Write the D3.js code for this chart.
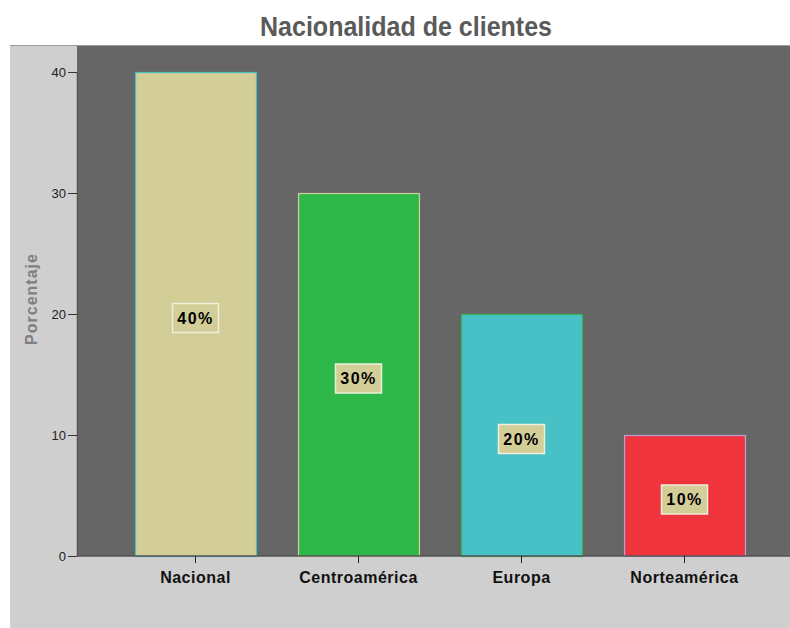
<!DOCTYPE html>
<html>
<head>
<meta charset="utf-8">
<script src="https://cdn.jsdelivr.net/npm/d3@7"></script>
<style>
  body { margin: 0; background: #fff; }
  svg { display: block; }
</style>
</head>
<body>
<div id="chart"></div>
<script>
// data
var categories = ["Nacional", "Centroamérica", "Europa", "Norteamérica"];
var values = [40, 30, 20, 10];
var labels = ["40%", "30%", "20%", "10%"];
var yTicks = [0, 10, 20, 30, 40];

var fills = ["#d3ce97", "#2fb84a", "#48c1c6", "#f0343d"];
var strokes = ["#4bbfc4", "#d3ce97", "#33b850", "#b9a3d6"];

var W = 790, H = 628;
var FONT = "'Liberation Sans', Arial, sans-serif";

var svg = d3.select("#chart")
  .append("svg")
  .attr("width", W)
  .attr("height", H);

// outer panel
svg.append("rect")
  .attr("x", 10).attr("y", 45)
  .attr("width", W - 10).attr("height", H - 45)
  .attr("fill", "#cfcfcf");

// plot area
var plot = { left: 77, top: 45, right: 790, bottom: 556 };
svg.append("rect")
  .attr("x", plot.left).attr("y", plot.top)
  .attr("width", plot.right - plot.left).attr("height", plot.bottom - plot.top)
  .attr("fill", "#666666");
svg.append("line")
  .attr("x1", 10).attr("x2", W)
  .attr("y1", 45.5).attr("y2", 45.5)
  .attr("stroke", "#9a9a9a");

var x = d3.scaleBand()
  .domain(categories)
  .range([114, 766])
  .paddingInner(0.258)
  .paddingOuter(0.129);

var y = d3.scaleLinear()
  .domain([0, 40])
  .range([plot.bottom, 72]);

// bars
svg.selectAll("rect.bar")
  .data(values)
  .enter()
  .append("rect")
  .attr("class", "bar")
  .attr("x", function(d, i) { return x(categories[i]) + 0.5; })
  .attr("y", function(d) { return y(d) + 0.5; })
  .attr("width", x.bandwidth())
  .attr("height", function(d) { return plot.bottom - y(d); })
  .attr("fill", function(d, i) { return fills[i]; })
  .attr("stroke", function(d, i) { return strokes[i]; })
  .attr("stroke-width", 1.2);

// value labels
var lab = svg.selectAll("g.lab")
  .data(values)
  .enter()
  .append("g")
  .attr("class", "lab")
  .attr("transform", function(d, i) {
    return "translate(" + (x(categories[i]) + x.bandwidth() / 2) + "," + (y(d / 2) + 4) + ")";
  });
lab.append("rect")
  .attr("x", -23).attr("y", -14.5)
  .attr("width", 46).attr("height", 29)
  .attr("fill", "#d3ce97")
  .attr("stroke", "#eeeedd")
  .attr("stroke-width", 1.5);
lab.append("text")
  .attr("text-anchor", "middle")
  .attr("dy", "0.36em")
  .attr("font-family", FONT)
  .attr("font-weight", "bold")
  .attr("font-size", "16px")
  .attr("letter-spacing", "1.5px")
  .attr("fill", "#000")
  .text(function(d, i) { return labels[i]; });

// y axis
var yAxis = svg.append("g")
  .attr("transform", "translate(" + plot.left + ",0)")
  .call(d3.axisLeft(y).tickValues(yTicks).tickSize(9).tickPadding(2).tickSizeOuter(0));
yAxis.select(".domain").attr("stroke", "#555").attr("stroke-width", 1.5);
yAxis.selectAll(".tick line").attr("stroke", "#333");
yAxis.selectAll(".tick text")
  .attr("font-family", FONT)
  .attr("font-size", "13px")
  .attr("fill", "#222");

// x axis
var xAxis = svg.append("g")
  .attr("transform", "translate(0," + plot.bottom + ")")
  .call(d3.axisBottom(x).tickSize(7).tickPadding(9).tickSizeOuter(0));
xAxis.select(".domain").attr("stroke", "#555").attr("stroke-width", 1.5)
  .attr("d", "M" + plot.left + ",0H" + plot.right);
xAxis.selectAll(".tick line").attr("stroke", "#222");
xAxis.selectAll(".tick text")
  .attr("font-family", FONT)
  .attr("font-weight", "bold")
  .attr("font-size", "16px")
  .attr("letter-spacing", "0.5px")
  .attr("fill", "#111");

// y axis title
svg.append("text")
  .attr("transform", "translate(37,299) rotate(-90)")
  .attr("text-anchor", "middle")
  .attr("font-family", FONT)
  .attr("font-weight", "bold")
  .attr("font-size", "16px")
  .attr("letter-spacing", "1px")
  .attr("fill", "#808080")
  .text("Porcentaje");

// title
svg.append("text")
  .attr("x", 406).attr("y", 36)
  .attr("text-anchor", "middle")
  .attr("font-family", FONT)
  .attr("font-weight", "bold")
  .attr("font-size", "28px")
  .attr("textLength", 292)
  .attr("lengthAdjust", "spacingAndGlyphs")
  .attr("fill", "#5a5a5a")
  .text("Nacionalidad de clientes");
</script>
</body>
</html>
